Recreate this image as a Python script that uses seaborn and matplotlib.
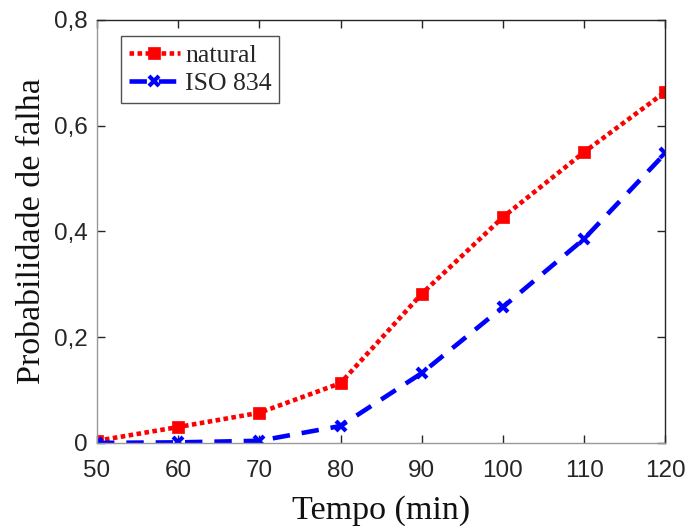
import matplotlib
matplotlib.use("Agg")
import matplotlib.pyplot as plt
import seaborn as sns
import pandas as pd

tempo = [50, 60, 70, 80, 90, 100, 110, 120]
natural = [0.004, 0.030, 0.057, 0.113, 0.282, 0.427, 0.550, 0.664]
iso834 = [0.000, 0.001, 0.004, 0.032, 0.132, 0.257, 0.386, 0.548]
yticks = [0, 0.2, 0.4, 0.6, 0.8]
yticklabels = ["0", "0,2", "0,4", "0,6", "0,8"]

sns.set_style("white")
plt.rcParams['font.family'] = ['Liberation Sans', 'DejaVu Sans']

fig = plt.figure(figsize=(6.88, 5.26), dpi=100)
ax = fig.add_axes([0.141, 0.158, 0.826, 0.804])

df1 = pd.DataFrame({"t": tempo, "p": natural})
df2 = pd.DataFrame({"t": tempo, "p": iso834})
sns.lineplot(data=df1, x="t", y="p", ax=ax, color="#ff0000", linestyle=(0, (1.0, 0.75)),
             linewidth=3.3, marker="s", markersize=8.5, markerfacecolor="#ff0000",
             markeredgecolor="#ff0000", markeredgewidth=0.5, label="natural")
sns.lineplot(data=df2, x="t", y="p", ax=ax, color="#0000ff", linestyle=(0, (3.8, 2.6)),
             linewidth=3.3, marker="x", markersize=7, markeredgewidth=3,
             markeredgecolor="#0000ff", label="ISO 834")

ax.set_xlim(50, 120)
ax.set_ylim(0, 0.8)
ax.set_xticks(tempo)
ax.set_yticks(yticks)
ax.set_yticklabels(yticklabels)
ax.tick_params(axis="both", labelsize=17.5, colors="#262626", direction="in", length=6, width=1,
               top=True, right=True, bottom=True, left=True)
ax.tick_params(axis="x", pad=12)
ax.tick_params(axis="y", pad=7)
for s in ax.spines.values():
    s.set_visible(True)
    s.set_color("#262626")
    s.set_linewidth(1)
ax.spines["left"].set_color("#999999")
ax.spines["bottom"].set_color("#999999")

ax.set_xlabel("Tempo (min)", fontsize=24.5, family=["Liberation Serif"], color="#111111", labelpad=10)
ax.set_ylabel("Probabilidade de falha", fontsize=24.5, family=["Liberation Serif"], color="#111111", labelpad=5)

leg = ax.legend(loc="upper left", bbox_to_anchor=(0.042, 0.962), borderaxespad=0,
                prop={"family": "Liberation Serif", "size": 18.5},
                frameon=True, fancybox=False, edgecolor="#262626", handlelength=2.0, borderpad=0.3,
                labelspacing=0.2, handletextpad=0.2)
leg.get_frame().set_linewidth(1)

fig.savefig("out.png", dpi=100)
